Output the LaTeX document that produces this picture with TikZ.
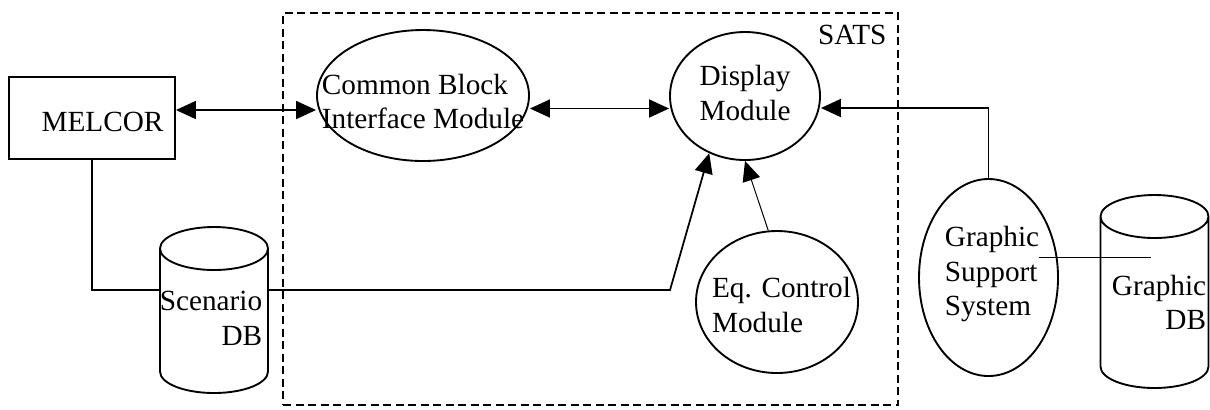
\documentclass[tikz,border=0pt]{standalone}
\usepackage{fontspec}
\setmainfont{Liberation Serif}
\usetikzlibrary{shapes,arrows.meta,positioning}

% database cylinder drawn round a named node
\newcommand{\dbdraw}[1]{%
  \draw[line width=0.75pt] ([yshift=-8.6pt]#1.north west) -- ([yshift=8.6pt]#1.south west)
    arc[start angle=180, end angle=360, x radius=21.6pt, y radius=8.6pt]
    -- ([yshift=-8.6pt]#1.north east)
    arc[start angle=0, end angle=180, x radius=21.6pt, y radius=8.6pt]
    arc[start angle=180, end angle=360, x radius=21.6pt, y radius=8.6pt];}

\begin{document}
\begin{tikzpicture}[
    x=0.4pt, y=-0.4pt,
    font=\fontsize{11.7}{13.8}\selectfont,
    box/.style={rectangle, draw, line width=0.75pt, minimum width=66.4pt, minimum height=32.8pt},
    module/.style={ellipse, draw, line width=0.75pt, inner sep=0pt},
    db/.style={rectangle, inner sep=0pt, outer sep=0pt, minimum width=43.2pt},
    txt/.style={inner sep=0pt, align=left},
    line/.style={line width=0.7pt},
    arrow/.style={line width=0.7pt, -{Triangle[length=8pt, width=7.2pt]}},
    dblarrow/.style={line width=0.7pt, {Triangle[length=8pt, width=7.2pt]}-{Triangle[length=8pt, width=7.2pt]}}
]
\useasboundingbox (0,0) rectangle (1210,409);

% SATS boundary
\node[draw, line width=0.7pt, dash pattern=on 3.2pt off 1.8pt, minimum width=246pt, minimum height=156.8pt] (sats) at (590.5,209) {};
\node[txt, anchor=north east] (satslbl) at ([xshift=-4.8pt, yshift=-5.2pt]sats.north east) {SATS};

% Modules
\node[box] (mel) at (92,118) {};
\node[txt] (meltxt) at ([xshift=4.2pt, yshift=-1.6pt]mel) {MELCOR};
\node[module, minimum width=84.8pt, minimum height=52.4pt] (cbim) at (423,95.5) {};
\node[txt] (cbimtxt) at ([yshift=-2.4pt]cbim) {Common Block\\Interface Module};
\node[module, minimum width=60pt, minimum height=51.2pt] (disp) at (745,96) {};
\node[txt] (disptxt) at ([yshift=1.2pt]disp) {Display\\Module};
\node[module, minimum width=64.8pt, minimum height=56.8pt] (eq) at (777,302) {};
\node[txt] (eqtxt) at ([xshift=1.8pt, yshift=-1.2pt]eq) {Eq. Control\\Module};
\node[module, minimum width=55.6pt, minimum height=78.8pt] (gss) at (988.5,277.5) {};
\node[txt] (gsstxt) at ([xshift=1.4pt, yshift=1.4pt]gss) {Graphic\\Support\\System};

% Databases
\node[db, minimum height=66.4pt] (sdb) at (214,310) {};
\dbdraw{sdb}
\node[txt, align=right] (sdbtxt) at ([xshift=-1.2pt, yshift=-3.4pt]sdb) {Scenario\\DB};
\node[db, minimum height=77.2pt] (gdb) at (1154.5,291.5) {};
\dbdraw{gdb}
\node[txt, align=right] (gdbtxt) at ([xshift=1.8pt, yshift=-4.4pt]gdb) {Graphic\\DB};

% Connections
\draw[dblarrow] ([yshift=3.2pt]mel.east) -- ([yshift=3.2pt]mel.east -| cbim.west);
\draw[dblarrow] ([yshift=-5.2pt]cbim.east) -- ([yshift=-5.2pt]cbim.east -| disp.west);
\draw[arrow] (gss.north) |- ([yshift=-4.8pt]disp.east);
\coordinate (kink) at (670,290);
\draw[arrow] ([yshift=8pt]sdb.east) -- (kink) -- (disp.238);
\draw[line] (mel.south) |- ([yshift=8pt]sdb.west);
\draw[arrow, line width=0.4pt] (eq.97) -- (disp.south);
\draw[line] ([xshift=20pt, yshift=8pt]gss.center) -- ([xshift=20pt, yshift=8pt]gss.center -| gdb.west);

\end{tikzpicture}
\end{document}
